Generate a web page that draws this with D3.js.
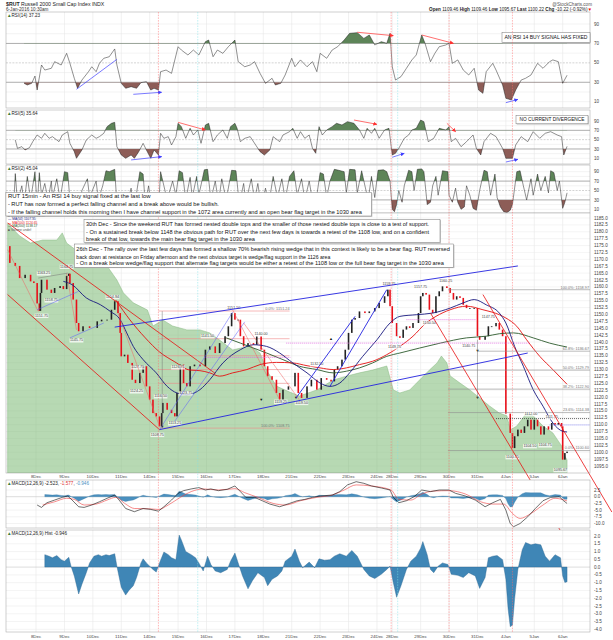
<!DOCTYPE html>
<html><head><meta charset="utf-8">
<script src="https://cdn.jsdelivr.net/npm/d3@7"></script>
<style>body{margin:0;background:#fff}svg{display:block}text{font-family:"Liberation Sans",Arial,sans-serif}</style>
</head><body><svg id="c" width="613" height="640"></svg>
<script>
// ---------------- DATA (bar index = 15-min bar counted from 7 Dec 9:30) ----------------
const dayLabels=["8Dec","9Dec","10Dec","11Dec","14Dec","15Dec","16Dec","17Dec","18Dec","21Dec","22Dec","23Dec","24Dec","28Dec","29Dec","30Dec","31Dec","4Jan","5Jan","6Jan"];
const dayStarts=[26,52,78,104,130,156,182,208,234,260,286,312,338,352,378,404,430,456,482,508];
const priceTicks=d3.range(1095,1185.01,2.5);
const rsiTicks=[10,30,50,70,90];
const macdTicks=[2.5,0,-2.5,-5,-7.5,-10];
const histTicks=[2,1.5,1,0.5,0,-0.5,-1,-1.5,-2,-2.5,-3,-3.5,-4];

const price=[[0,1174.8],[2,1168.7],[7,1167.6],[11,1163.2],[16,1164.4],[21,1162],[24,1161.4],[27,1154],[29,1151.3],[30,1157.8],[31,1162.6],[36,1159],[40,1157.8],[43,1159.6],[48,1160.3],[51,1159.2],[54,1164],[56,1164.8],[57,1161.4],[60,1155.4],[63,1146.9],[65,1143.9],[69,1145.7],[75,1145.1],[82,1147.5],[86,1148.1],[91,1148.1],[95,1151.7],[98,1154.8],[101,1150.5],[103,1143.3],[104,1134.8],[107,1135.4],[110,1132.4],[114,1126.3],[117,1125.1],[121,1128.8],[124,1131.2],[127,1123.9],[130,1119.1],[133,1114.2],[136,1113],[139,1109.4],[141,1114.2],[142,1117.9],[146,1115.4],[150,1114.2],[153,1113],[155,1121.5],[158,1131.8],[161,1125.1],[164,1123.9],[167,1131.2],[171,1131.8],[176,1131.2],[181,1137.2],[185,1138.4],[190,1136],[194,1139.6],[199,1142.1],[202,1145.7],[205,1150.5],[208,1148.1],[211,1148.1],[213,1142.1],[216,1138.4],[220,1139.6],[225,1139],[228,1142.1],[232,1137.2],[235,1131.2],[238,1127.6],[242,1126.3],[246,1121.5],[249,1119.1],[252,1122.7],[257,1123.9],[263,1128.8],[266,1121.5],[269,1119.7],[274,1123.9],[278,1126.3],[283,1122.7],[287,1126.9],[292,1126.3],[296,1125.7],[299,1130],[302,1131.2],[306,1133.6],[309,1137.2],[312,1143.3],[315,1148.1],[318,1148.7],[322,1151.1],[327,1150.5],[331,1151.1],[336,1152.3],[340,1154.2],[345,1156.6],[348,1159],[350,1153],[352,1146.9],[356,1142.1],[359,1141.5],[362,1144.5],[365,1145.7],[368,1145.1],[371,1146.9],[376,1150.5],[378,1156.6],[380,1157.8],[383,1157.2],[386,1151.7],[389,1150.5],[392,1156.6],[395,1158.4],[398,1160.2],[402,1159.6],[405,1157.8],[408,1155.4],[411,1156.6],[414,1156],[417,1153.5],[420,1152.3],[423,1152.3],[427,1152.3],[430,1142.1],[432,1140.8],[437,1142.1],[440,1145.7],[443,1145.7],[447,1146.9],[450,1144.5],[453,1142.1],[456,1114],[460,1107],[462,1101.5],[464,1105.8],[467,1108.2],[470,1107],[473,1109.4],[476,1111.8],[479,1108.2],[482,1111.8],[485,1109.4],[488,1106.4],[491,1109.4],[495,1108.2],[498,1110.6],[501,1110],[504,1110.6],[507,1109.4],[508,1097.3],[510,1099.7],[512,1100.22]];

const compare=[[0,1183],[2,1182.1],[11,1178.5],[21,1175.9],[32,1177],[45,1177],[50,1179.6],[54,1175.9],[66,1172.3],[82,1168.7],[91,1167.6],[100,1162.5],[106,1157.8],[115,1154.2],[128,1151.6],[133,1145.8],[142,1148],[151,1145.8],[164,1144.4],[176,1144.4],[185,1143.3],[194,1140.7],[206,1137.1],[222,1138.6],[231,1136],[237,1129.8],[246,1124],[256,1122.2],[267,1120.4],[283,1122.6],[298,1126.2],[311,1127.7],[322,1128.8],[334,1129.8],[347,1131.3],[353,1122.6],[359,1121.5],[368,1122.6],[377,1126.2],[386,1129.8],[393,1132.4],[397,1134.9],[402,1132.4],[405,1127.7],[414,1125.1],[423,1122.6],[432,1119.7],[441,1116.8],[450,1114.2],[457,1113.2],[460,1108.1],[466,1109.5],[475,1114.2],[481,1113.2],[490,1109.5],[499,1107],[507,1102.3],[510,1098.6],[512,1097.2]];

const ma50=[[51,1162],[59,1160.8],[72,1156],[85,1153.5],[94,1151.1],[103,1148.1],[109,1143.3],[115,1138.4],[124,1133.6],[136,1128.8],[146,1123.9],[155,1121.5],[164,1120.9],[176,1122.7],[185,1126.3],[197,1132.4],[213,1137.2],[225,1139],[237,1138.4],[249,1136],[261,1132.4],[274,1128.8],[286,1125.1],[295,1123.9],[304,1125.1],[313,1128.8],[325,1134.8],[338,1140.8],[350,1146.9],[359,1149.3],[374,1149.9],[389,1150.5],[405,1152.3],[417,1154.2],[427,1155.4],[438,1153.5],[450,1150.5],[456,1146.9],[464,1138.4],[472,1131.2],[481,1122.7],[490,1116.7],[499,1110.6],[508,1107.6],[512,1107.35]];
const ma100=[[99,1155.2],[112,1148],[126,1141.5],[139,1136.4],[153,1132.8],[167,1129.8],[176,1129.6],[185,1128.8],[194,1127.6],[206,1128.8],[219,1130],[231,1131.8],[246,1132.6],[261,1132.4],[274,1131.4],[286,1130.6],[298,1130],[310,1130.6],[322,1131.8],[334,1133],[347,1135.4],[359,1138.4],[371,1142.1],[383,1146.9],[392,1149.3],[405,1151.7],[420,1153],[435,1151.7],[450,1149.9],[456,1148.7],[466,1145.7],[475,1140.8],[487,1134.8],[499,1130],[512,1124.65]];
const ma200=[[200,1141.5],[213,1139.6],[225,1137.8],[237,1136],[252,1133.6],[267,1131.2],[283,1130],[298,1128.8],[310,1129.4],[322,1130.6],[334,1132.4],[347,1134.8],[359,1136],[377,1137.8],[396,1139.6],[420,1141.5],[438,1142.1],[450,1143],[463,1143.3],[481,1141.5],[496,1139.6],[512,1138.17]];

const rsi14=[[15,28.9],[18,27.2],[22,28.9],[25,36.4],[27,22],[31,47.8],[34,42.6],[40,44.4],[43,51.2],[49,47.8],[54,59.8],[57,49.5],[61,34.1],[64,23.8],[68,32.3],[74,40.9],[77,46],[81,40.9],[84,49.5],[88,54.7],[93,56.3],[98,64.3],[100,47.8],[104,28.9],[108,23.8],[113,25.5],[118,23.8],[122,29.6],[127,30.7],[131,22],[134,23.8],[138,22],[140,40.9],[145,42.6],[150,39.2],[156,66.6],[159,63.2],[165,58.1],[170,63.2],[175,58.1],[181,71.8],[184,73.5],[188,56.3],[192,63.2],[197,59.8],[202,66.6],[208,73.5],[211,51.2],[217,46],[222,47.8],[226,51.2],[231,39.2],[236,28.9],[242,34.1],[245,27.2],[250,28.9],[254,37.5],[260,54.7],[263,46],[268,53],[274,46],[279,51.2],[283,40.9],[286,59.8],[292,54.7],[297,63.2],[302,66.6],[308,73.5],[313,80.4],[320,81.1],[326,75.2],[331,78.7],[336,68.4],[342,71.8],[347,70.1],[350,80.4],[352,46],[355,32.3],[360,35.8],[365,44.4],[370,53],[374,58.1],[379,78.7],[382,70.1],[387,51.2],[391,59.8],[395,66.6],[401,68.4],[404,70.1],[407,49.5],[412,53],[417,42.6],[422,37.5],[427,44.4],[431,22],[435,18.6],[438,40.9],[444,49.5],[447,42.6],[453,27.2],[456,13.5],[461,11.8],[465,22],[470,32.3],[474,34.1],[479,37.5],[485,49.5],[490,44.4],[496,51.2],[499,53],[504,51.2],[508,28.9],[512,37.23]];
const rsi5=[[7,49.3],[9,31.4],[13,35],[16,27.9],[20,32.9],[23,45.7],[27,60],[31,52.9],[34,63.6],[38,52.9],[41,56.4],[47,45.7],[50,60],[55,67.1],[57,42.1],[61,24.3],[63,10],[68,27.9],[72,49.3],[77,60],[81,52.9],[84,56.4],[88,63.6],[91,77.9],[95,85],[98,87.1],[100,35],[104,17.1],[108,10],[113,17.1],[116,10],[120,24.3],[124,42.1],[127,27.9],[131,10],[134,27.9],[138,17.1],[140,63.6],[143,52.9],[147,56.4],[150,38.6],[154,56.4],[156,85],[159,77.9],[163,52.9],[167,74.3],[170,60],[174,70.7],[177,42.1],[181,81.4],[184,85],[188,45.7],[192,60],[197,70.7],[201,52.9],[204,77.9],[208,85],[210,74.3],[213,45.7],[217,52.9],[222,56.4],[227,38.6],[231,24.3],[235,17.1],[240,27.9],[243,56.4],[249,45.7],[252,60],[258,67.1],[261,74.3],[265,52.9],[268,67.1],[272,52.9],[276,60],[279,31.4],[282,20.7],[285,77.9],[288,60],[292,70.7],[297,77.9],[301,85],[306,81.4],[311,88.6],[317,85],[322,70.7],[326,52.9],[329,74.3],[333,63.6],[336,74.3],[340,52.9],[345,70.7],[349,74.3],[352,17.1],[355,20.7],[358,31.4],[363,52.9],[367,60],[370,70.7],[374,74.3],[378,92],[381,88.6],[385,45.7],[390,52.9],[395,74.3],[401,70.7],[404,77.9],[406,45.7],[410,52.9],[415,35],[420,45.7],[426,60],[429,31.4],[433,17.1],[436,45.7],[442,63.6],[447,56.4],[453,31.4],[456,10],[462,10],[465,38.6],[470,56.4],[476,45.7],[481,67.1],[487,52.9],[492,63.6],[497,67.1],[503,60],[507,56.4],[509,17.1],[512,35.64]];
const rsi2=[[6,40],[7,86],[9,25],[13,60],[15,20],[18,80],[21,30],[25,90],[27,15],[29,88],[31,40],[34,65],[37,30],[40,70],[41,35],[45,75],[48,30],[52,90],[55,88],[57,30],[61,15],[65,8],[68,50],[73,75],[75,35],[81,70],[83,30],[87,60],[90,92],[93,90],[98,95],[100,20],[104,8],[107,45],[109,15],[113,55],[115,10],[118,45],[121,90],[124,85],[126,20],[129,60],[132,10],[135,40],[138,8],[140,90],[143,60],[146,30],[151,70],[154,40],[157,92],[160,88],[163,30],[167,78],[169,35],[173,80],[175,40],[180,94],[183,95],[186,30],[190,70],[193,25],[196,75],[200,30],[205,93],[209,92],[212,20],[216,65],[218,25],[223,75],[226,30],[229,65],[232,15],[236,55],[239,20],[243,80],[247,35],[251,75],[254,30],[258,80],[262,92],[265,40],[269,75],[272,30],[276,70],[280,15],[283,40],[286,88],[289,85],[292,35],[295,70],[299,95],[303,93],[308,90],[310,45],[313,95],[318,94],[320,45],[324,92],[327,60],[330,30],[333,80],[336,35],[339,93],[344,94],[347,90],[350,70],[352,10],[354,5],[356,20],[358,50],[361,25],[363,60],[367,93],[370,90],[372,50],[375,95],[379,96],[381,90],[384,20],[387,25],[389,60],[392,80],[394,40],[398,92],[403,90],[404,40],[407,25],[410,55],[412,25],[415,10],[418,15],[420,60],[423,40],[426,12],[429,8],[432,50],[436,93],[439,90],[442,40],[446,85],[448,35],[451,15],[454,5],[457,3],[460,8],[462,20],[466,90],[469,92],[472,60],[475,30],[479,75],[481,40],[485,85],[488,50],[492,80],[495,45],[497,92],[500,88],[503,50],[505,70],[508,12],[510,25],[512,45.04]];

const macdLine=[[27,-3.1],[31,-4],[36,-2.25],[43,-1.25],[50,-0.25],[55,0.25],[59,-1.25],[65,-3.75],[70,-4],[77,-3.1],[84,-1.9],[91,-0.6],[98,0.6],[102,-1.25],[108,-4.4],[116,-5.6],[124,-4.4],[131,-4.75],[138,-5.4],[143,-3.75],[150,-1.25],[156,1.25],[161,2.25],[168,2.9],[175,3.4],[181,2.5],[186,2.9],[193,2.25],[201,2.75],[208,4],[213,1.9],[218,-0.25],[226,-0.25],[233,-1.5],[240,-2.75],[249,-3.75],[258,-2.5],[265,-1.5],[272,-1],[279,-0.25],[286,0.25],[297,0.6],[304,1.9],[311,4.4],[319,5.6],[326,5],[333,4],[342,3.25],[350,2.5],[353,-0.25],[358,-2.25],[365,-1.5],[372,0],[379,2.5],[387,1.9],[395,2.5],[404,2.5],[410,1.25],[419,0.25],[428,-1.25],[437,-3.75],[444,-2.25],[451,-1],[456,-5],[460,-10],[463,-11.2],[469,-10],[476,-7.5],[483,-4.4],[490,-1.5],[497,-0.25],[505,0],[508,-1.25],[512,-2.523]];
const macdSignal=[[32,-3.1],[43,-1.9],[54,-0.6],[61,-1],[70,-3.1],[81,-2.75],[91,-1.25],[99,-0.25],[108,-2.75],[116,-4.4],[129,-4.5],[138,-4.75],[147,-3.1],[158,-0.25],[168,1.9],[179,2.9],[193,2.5],[208,3],[217,1.5],[229,-0.25],[243,-2.5],[254,-3.1],[268,-1.5],[283,-0.25],[297,0.6],[308,2.5],[319,4.4],[333,4],[351,2.5],[358,-1],[369,-1.25],[379,1],[390,2.1],[404,2.25],[419,1],[433,-1.9],[444,-2.75],[454,-2.75],[462,-6.25],[469,-8.1],[479,-6.25],[490,-3.1],[501,-0.6],[512,-1.577]];
const macdHist=[[34,0.8],[38,0.7],[41,0.6],[45,0.74],[49,0.48],[52,0.38],[56,0.63],[58,0.06],[61,-0.57],[65,-1.73],[68,-1.1],[72,-0.36],[75,0.27],[79,0.7],[83,0.8],[86,0.7],[90,0.8],[93,0.74],[98,0.86],[100,0.06],[104,-1.3],[108,-1.8],[111,-1.5],[115,-1.2],[118,-0.67],[122,0.27],[124,0.53],[127,0.27],[133,-0.15],[136,-0.32],[139,0.27],[143,0.97],[147,0.8],[150,0.6],[154,0.48],[157,2.06],[159,1.75],[163,1],[168,0.8],[172,0.6],[175,0.27],[179,-0.25],[183,0.7],[186,0.17],[190,-0.25],[195,-0.36],[201,-0.15],[204,0.38],[208,0.9],[211,0.27],[215,-0.57],[220,-1.4],[224,-0.88],[229,-0.36],[235,-0.67],[238,-1.2],[242,-0.78],[247,-0.57],[251,-0.25],[254,0.38],[260,0.7],[263,1.16],[267,0.38],[270,-0.04],[276,0.32],[281,-0.04],[285,0.53],[290,0.44],[295,0.48],[299,0.7],[304,0.86],[310,0.7],[315,1.07],[320,0.7],[326,-0.15],[331,-0.57],[336,-0.74],[342,-0.46],[347,-0.15],[350,0.06],[353,-1],[356,-1.94],[360,-1.2],[365,-0.15],[369,0.38],[374,0.7],[378,1.22],[380,1.64],[384,0.8],[387,-0.15],[390,-0.36],[394,0.06],[398,0.27],[403,0.17],[406,-0.46],[412,-0.53],[417,-0.67],[422,-0.36],[428,-0.57],[432,-1.37],[437,-0.67],[440,0.6],[444,0.7],[448,0.74],[453,0.48],[456,-0.78],[458,-2.67],[460,-3.83],[462,-3.73],[464,-2.04],[467,-0.15],[471,1.12],[474,1.58],[479,1.43],[483,1.5],[488,1.43],[492,0.7],[496,0.38],[501,0.8],[506,0.6],[508,-0.57],[510,-0.99],[512,-0.946]];

// drawn annotations (bar, value)
const blueThick=[[[98,1145.4],[467,1167.6]],[[139,1108.2],[476,1136]],[[264,1119.7],[318,1149.3]],[[295,1123.9],[347,1159]]];
const blueThin=[[[27,1151.7],[65,1158.4]],[[57,1141.5],[88,1146.9]],[[139,1108.1],[206,1150.9]],[[153,1111.3],[217,1147.3]]];
const redThick=[[[0,1183.2],[190,1128.6]],[[0,1157.2],[139,1108.2]],[[387,1150.5],[523,1060.2]],[[435,1157.2],[553,1078.3]]];
const redThin=[[[0,1173.5],[28,1151.1]],[[54,1165],[63,1144.4]],[[101,1150.5],[139,1109.4]],[[206,1151.6],[249,1119]],[[216,1146.9],[267,1119]]];
const grayThin=[[[28,1163.2],[55,1165]],[[141.5,1151.2],[141.5,1109.2]],[[430,1140.8],[430,1119.7]]];
const fibLeftLevels=[1151.24,1141.2,1135.0,1130.0,1125.0,1108.75];
const fibLeftRange=[138,258];
const fibRight=[["100.0%: 1158.97",1158.97,403],["61.8%: 1136.67",1136.67,430],["50.0%: 1129.79",1129.79,403],["38.2%: 1122.90",1122.9,403],["23.6%: 1114.38",1114.38,403],["0.0%: 1100.60",1100.6,403]];
const dotted=[[1112.2,447,"#222"],[1109.9,496,"#6a6aff"]];
const magenta=[[1139.6,255,478],[1148.1,365,429],[1134.4,180,259]];
const priceTags=[[33,1165,"1163.25"],[54,1167.4,"1164.75"],[40,1155.2,"1158.75"],[31,1149.6,"1151.75"],[63,1140.7,"1145.75"],[96,1156.4,"1154.94"],[119,1130.9,"1127.75"],[118,1122.2,"1124.25"],[140,1120.4,"1116.50"],[137,1106.4,"1108.75"],[153,1110.6,"1113.25"],[156,1130.9,"1126.75"],[163,1121.5,"1123.75"],[183,1142.2,"1141.50"],[207,1152.6,"1151.50"],[232,1142.9,"1140.00"],[250,1118.4,"1119.25"],[269,1118,"1119.50"],[283,1132,"1132.50"],[349,1161.3,"1159.75"],[354,1138.2,"1149.75"],[378,1160.2,"1157.75"],[401,1162.3,"1160.25"],[386,1146.9,"1150.50"],[440,1149.1,"1147.75"],[422,1138.6,"1140.75"],[479,1113.9,"1112.00"],[498,1112.8,"1111.75"],[478,1102.3,"1104.50"],[492,1102.6,"1104.75"],[462,1098.3,"1100.75"],[506,1093.6,"1095.67"]];
const markersDown=[[232,1119.1],[264,1119.7],[141.5,1109.2],[430,1137],[430,1119.7]];
const markersUp=[[296,1141.1]];
const rsi14Arrows=[[[63,22.8],[100,53.6],"#4040ff",false],[[115,17.6],[141,19.7],"#4040ff",true],[[320,81.5],[353,78],"#ff3030",true],[[379,78.7],[408,70.1],"#ff3030",true],[[456,9],[467,12.4],"#4040ff",true]];
const rsi5Arrows=[[[113,6.5],[141,13.6],"#4040ff",true],[[156,87.1],[181,70.7],"#ff3030",true],[[317,92.1],[338,82.9],"#ff3030",true],[[352,12.2],[363,20.7],"#4040ff",true],[[402,85],[410,67.1],"#ff3030",true],[[456,2],[467,7.9],"#4040ff",true]];
const redMarks=[138,351,404,462];
const cyanMarks=[174,357];

const note1=["RUT 15min - An RSI 14 buy signal fixed at the last low","- RUT has now formed a perfect falling channel and a break above would be bullish.","- If the falling channel holds this morning then I have channel support in the 1072 area currently and an open bear flag target in the 1030 area"];
const note2=["30th Dec - Since the weekend RUT has formed nested double tops and the smaller of those nested double tops is close to a test of support.","- On a sustained break below 1148 the obvious path for RUT over the next few days is towards a retest of the 1108 low, and on a confident","break of that low, towards the main bear flag target in the 1030 area"];
const note3=["26th Dec - The rally over the last few days has formed a shallow 70% bearish rising wedge that in this context is likely to be a bear flag. RUT reversed","back down at resistance on Friday afternoon and the next obvious target is wedge/flag support in the 1126 area","- On a break below wedge/flag support that alternate flag targets would be either a retest of the 1108 low or the full bear flag target in the 1030 area"];

// ---------------- DRAWING ----------------
const svg=d3.select("#c");
const defs=svg.append("defs");
const L=6,R=590;
const x=d3.scaleLinear().domain([-1.5,533]).range([L,R]);
const P={r14:{t:12,b:108},r5:{t:110,b:164},r2:{t:165,b:213},main:{t:213,b:473},macd:{t:480,b:528},hist:{t:530,b:632}};
const yR14=d3.scaleLinear().domain([10,90]).range([101.7,24]);
const yR5=d3.scaleLinear().domain([10,90]).range([158.3,121]);
const yR2=d3.scaleLinear().domain([10,90]).range([209.3,171.7]);
const yP=d3.scaleLinear().domain([1185,1095]).range([218,466]);
const yM=d3.scaleLinear().domain([0,-10]).range([496.7,523.5]);
const yH=d3.scaleLinear().domain([2,-4]).range([536,629.3]);

["arrR","#ff3030","arrB","#4040ff"].forEach((v,i,a)=>{ if(i%2) return;
  defs.append("marker").attr("id",v).attr("viewBox","0 0 10 10").attr("refX",9).attr("refY",5)
   .attr("markerUnits","userSpaceOnUse").attr("markerWidth",4).attr("markerHeight",4).attr("orient","auto")
   .append("path").attr("d","M0,0L10,5L0,10z").attr("fill",a[i+1]);});

function clip(id,x0,y0,w,h){defs.append("clipPath").attr("id",id).append("rect").attr("x",x0).attr("y",y0).attr("width",w).attr("height",h);}
function panelBase(p){
  const g=svg.append("g");
  g.append("rect").attr("x",L).attr("y",p.t).attr("width",R-L).attr("height",p.b-p.t).attr("fill","#fff");
  g.selectAll(".vg").data(dayStarts).join("line").attr("x1",d=>x(d)).attr("x2",d=>x(d)).attr("y1",p.t).attr("y2",p.b).attr("stroke","#e3e3e3").attr("stroke-width",0.5);
  return g;
}
function border(p){svg.append("rect").attr("x",L).attr("y",p.t).attr("width",R-L).attr("height",p.b-p.t).attr("fill","none").attr("stroke","#a0a0a0").attr("stroke-width",0.5);}
function axisLabels(ticks,y,fmt){svg.append("g").selectAll("text").data(ticks).join("text").attr("x",594).attr("y",d=>y(d)+1.6).attr("font-size",4.6).attr("fill","#444").text(fmt);}
function lbl(px,py,parts){const t=svg.append("text").attr("x",px).attr("y",py).attr("font-size",4.6).attr("fill","#222");
  t.append("tspan").attr("fill","#3a7d3a").text("▲");
  parts.forEach(pp=>t.append("tspan").attr("fill",pp[1]).text(pp[0]));}

// header
const h1=svg.append("text").attr("x",6).attr("y",6).attr("font-size",5.2).attr("fill","#222");
h1.append("tspan").attr("font-weight","bold").text("$RUT");h1.append("tspan").text(" Russell 2000 Small Cap Index  INDX");
svg.append("text").attr("x",6).attr("y",11.3).attr("font-size",4.6).attr("fill","#333").text("6-Jan-2016 10:30am");
svg.append("text").attr("x",592).attr("y",6).attr("font-size",4.6).attr("fill","#555").attr("text-anchor","end").text("@StockCharts.com");
const h2=svg.append("text").attr("x",592).attr("y",11.3).attr("font-size",4.6).attr("fill","#222").attr("text-anchor","end");
[["Open","1109.46"],["High","1109.46"],["Low","1095.67"],["Last","1100.22"],["Chg","-10.22 (-0.92%)"]].forEach(d=>{h2.append("tspan").attr("font-weight","bold").text(" "+d[0]+" ");h2.append("tspan").text(d[1]);});
h2.append("tspan").attr("fill","#e00").text("▼");

// RSI panels
function rsiPanel(key,data,y,name,val,arrows){
  const p=P[key];const g=panelBase(p);
  d3.range(10,91,10).forEach(v=>{
    const strong=(v===30||v===70), mid=v===50;
    g.append("line").attr("x1",L).attr("x2",R).attr("y1",y(v)).attr("y2",y(v))
     .attr("stroke",strong?"#8a8a8a":mid?"#a8a8a8":"#e6e6e6").attr("stroke-width",strong?0.7:0.5)
     .attr("stroke-dasharray",mid?"2,1.2":null);});
  clip(key+"hi",L,p.t,R-L,y(70)-p.t);clip(key+"lo",L,y(30),R-L,p.b-y(30));
  g.append("path").datum(data).attr("clip-path",`url(#${key}hi)`).attr("fill","#5d8458")
   .attr("d",d3.area().x(d=>x(d[0])).y0(y(70)).y1(d=>y(d[1])));
  g.append("path").datum(data).attr("clip-path",`url(#${key}lo)`).attr("fill","#8d5d57")
   .attr("d",d3.area().x(d=>x(d[0])).y0(y(30)).y1(d=>y(d[1])));
  clip(key+"all",L,p.t,R-L,p.b-p.t);
  g.append("path").datum(data).attr("clip-path",`url(#${key}all)`).attr("fill","none").attr("stroke","#222").attr("stroke-width",0.5)
   .attr("d",d3.line().x(d=>x(d[0])).y(d=>y(d[1])));
  arrows.forEach(a=>g.append("line").attr("x1",x(a[0][0])).attr("y1",y(a[0][1])).attr("x2",x(a[1][0])).attr("y2",y(a[1][1]))
    .attr("stroke",a[2]).attr("stroke-width",0.7).attr("marker-end",a[3]?(a[2]==="#ff3030"?"url(#arrR)":"url(#arrB)"):null));
  border(p);axisLabels(rsiTicks,y,d=>d);
  lbl(7,p.t+5,[[name+" "+val,"#222"]]);
}
rsiPanel("r14",rsi14,yR14,"RSI(14)","37.23",rsi14Arrows);
rsiPanel("r5",rsi5,yR5,"RSI(5)","35.64",rsi5Arrows);
rsiPanel("r2",rsi2,yR2,"RSI(2)","45.04",[]);

// callout boxes in RSI panels
function callout(x0,y0,x1,y1,txt,tw){
  svg.append("rect").attr("x",x0+0.8).attr("y",y0+0.8).attr("width",x1-x0).attr("height",y1-y0).attr("fill","#c8c8c8");
  svg.append("rect").attr("x",x0).attr("y",y0).attr("width",x1-x0).attr("height",y1-y0).attr("fill","#fff").attr("stroke","#777").attr("stroke-width",0.5);
  svg.append("text").attr("x",(x0+x1)/2).attr("y",(y0+y1)/2+1.9).attr("text-anchor","middle").attr("font-size",5.2).attr("fill","#111")
    .attr("textLength",tw).attr("lengthAdjust","spacingAndGlyphs").text(txt);
}
callout(502,32.5,590,42.5,"AN RSI 14 BUY SIGNAL HAS FIXED",83);
callout(516,115.3,588,123.8,"NO CURRENT DIVERGENCE",65);

// main panel
const pm=P.main;const gm=panelBase(pm);
priceTicks.forEach(v=>gm.append("line").attr("x1",L).attr("x2",R).attr("y1",yP(v)).attr("y2",yP(v)).attr("stroke","#ebebeb").attr("stroke-width",0.5));
clip("mainclip",L,pm.t,R-L,pm.b-pm.t);
const gc=gm.append("g").attr("clip-path","url(#mainclip)");
gc.append("path").datum(compare).attr("fill","rgba(112,180,104,0.5)").attr("stroke","#86b981").attr("stroke-width",0.5)
  .attr("d",d3.area().x(d=>x(d[0])).y0(pm.b).y1(d=>yP(d[1])));
// fib lines
fibLeftLevels.forEach(v=>gc.append("line").attr("x1",x(fibLeftRange[0])).attr("x2",x(fibLeftRange[1])).attr("y1",yP(v)).attr("y2",yP(v)).attr("stroke","#f08a8a").attr("stroke-width",0.6));
gc.append("text").attr("x",x(fibLeftRange[1])).attr("y",yP(fibLeftLevels[0])-1).attr("text-anchor","end").attr("font-size",3.8).attr("fill","#777").text("0.0%: 1151.24");
gc.append("text").attr("x",x(fibLeftRange[1])).attr("y",yP(fibLeftLevels[5])-1).attr("text-anchor","end").attr("font-size",3.8).attr("fill","#777").text("100.0%: 1108.75");
fibRight.forEach(f=>{gm.append("line").attr("x1",x(f[2])).attr("x2",R).attr("y1",yP(f[1])).attr("y2",yP(f[1])).attr("stroke","#8c8c8c").attr("stroke-width",0.6);
  gm.append("text").attr("x",R-1).attr("y",yP(f[1])-1.2).attr("text-anchor","end").attr("font-size",3.8).attr("fill","#777").text(f[0]);});
dotted.forEach(d=>gm.append("line").attr("x1",x(d[1])).attr("x2",R).attr("y1",yP(d[0])).attr("y2",yP(d[0])).attr("stroke",d[2]).attr("stroke-width",0.7).attr("stroke-dasharray","1,1"));
magenta.forEach(d=>gm.append("line").attr("x1",x(d[1])).attr("x2",x(d[2])).attr("y1",yP(d[0])).attr("y2",yP(d[0])).attr("stroke","#e060e0").attr("stroke-width",0.8).attr("stroke-dasharray","1,1"));
// candles
price.forEach((d,k)=>{ if(!k) return; const o=price[k-1][1],c=d[1];
  const y1=yP(Math.max(o,c)),y2=yP(Math.min(o,c));
  gc.append("rect").attr("x",x(d[0])-0.8).attr("y",y1).attr("width",1.6).attr("height",Math.max(0.8,y2-y1)).attr("fill",c>=o?"#222":"#e8101a");});
// moving averages
[[ma200,"#2c5a2c"],[ma100,"#e41010"],[ma50,"#16167e"]].forEach(m=>gc.append("path").datum(m[0]).attr("fill","none").attr("stroke",m[1]).attr("stroke-width",0.9)
  .attr("d",d3.line().curve(d3.curveMonotoneX).x(d=>x(d[0])).y(d=>yP(d[1]))));
// trendlines
function tl(arr,col,w){arr.forEach(s=>svg.append("line").attr("x1",x(s[0][0])).attr("y1",yP(s[0][1])).attr("x2",x(s[1][0])).attr("y2",yP(s[1][1])).attr("stroke",col).attr("stroke-width",w));}
tl(redThin,"#f06060",0.5);tl(blueThin,"#5a5aff",0.5);tl(grayThin,"#777",0.5);
tl(blueThick,"#2323e0",0.9);tl(redThick,"#e81010",0.8);
// arrows markers
markersDown.forEach(d=>gm.append("text").attr("x",x(d[0])).attr("y",yP(d[1])+1.5).attr("text-anchor","middle").attr("font-size",4).attr("fill","#111").text("▼"));
markersUp.forEach(d=>gm.append("text").attr("x",x(d[0])).attr("y",yP(d[1])+1.5).attr("text-anchor","middle").attr("font-size",4).attr("fill","#111").text("▲"));
// price tags
priceTags.forEach(t=>{const g=gm.append("g");
  const tx=g.append("text").attr("x",x(t[0])).attr("y",yP(t[1])+1.3).attr("text-anchor","middle").attr("font-size",3.7).attr("fill","#444").text(t[2]);
  const b=tx.node().getBBox();
  g.insert("rect","text").attr("x",b.x-0.4).attr("y",b.y-0.2).attr("width",b.width+0.8).attr("height",b.height+0.4).attr("fill","rgba(255,255,255,0.75)");});
border(pm);axisLabels(priceTicks,yP,d=>d.toFixed(1));
// legend
const legRows=[["$RUT (15 min) 1100.22","#222","■"],["MA(50) 1107.35","#16167e","—"],["MA(100) 1124.65","#e41010","—"],["MA(200) 1138.17","#2c5a2c","—"],["Volume undef","#555","■"]];
legRows.forEach((r,i)=>{const t=svg.append("text").attr("x",8).attr("y",pm.t+4+i*3.4).attr("font-size",3.3).attr("fill",r[1]);
  t.append("tspan").text(r[2]+" ");t.append("tspan").text(r[0]);});

// x axis labels below main panel
svg.append("g").selectAll("text").data(dayLabels).join("text").attr("x",(d,i)=>x(dayStarts[i])).attr("y",477.8)
 .attr("text-anchor","middle").attr("font-size",4.4).attr("fill","#444").text(d=>d);

// MACD panel
const pM=P.macd;const gM=panelBase(pM);
macdTicks.forEach(v=>gM.append("line").attr("x1",L).attr("x2",R).attr("y1",yM(v)).attr("y2",yM(v)).attr("stroke",v===0?"#bbb":"#e6e6e6").attr("stroke-width",0.5));
gM.append("path").datum(macdHist).attr("fill","#4a90bf").attr("stroke","#2f6f9c").attr("stroke-width",0.3)
  .attr("d",d3.area().x(d=>x(d[0])).y0(yM(0)).y1(d=>yM(d[1])));
gM.append("path").datum(macdSignal).attr("fill","none").attr("stroke","#f04040").attr("stroke-width",0.6).attr("d",d3.line().curve(d3.curveMonotoneX).x(d=>x(d[0])).y(d=>yM(d[1])));
gM.append("path").datum(macdLine).attr("fill","none").attr("stroke","#111").attr("stroke-width",0.6).attr("d",d3.line().x(d=>x(d[0])).y(d=>yM(d[1])));
border(pM);axisLabels(macdTicks,yM,d=>d.toFixed(1));
lbl(7,pM.t+4.5,[["MACD(12,26,9) ","#222"],["-2.523","#222"],[", ","#222"],["-1.577","#e03030"],[", ","#222"],["-0.946","#4a90bf"]]);

// Histogram panel
const pH=P.hist;const gH=panelBase(pH);
histTicks.forEach(v=>gH.append("line").attr("x1",L).attr("x2",R).attr("y1",yH(v)).attr("y2",yH(v)).attr("stroke",v===0?"#bbb":"#e8e8e8").attr("stroke-width",0.5));
gH.append("path").datum(macdHist).attr("fill","#3f86b6").attr("stroke","#2a6690").attr("stroke-width",0.4)
  .attr("d",d3.area().x(d=>x(d[0])).y0(yH(0)).y1(d=>yH(d[1])));
border(pH);axisLabels(histTicks,yH,d=>d.toFixed(1));
lbl(7,pH.t+4.5,[["MACD(12,26,9) Hist -0.946","#222"]]);
svg.append("g").selectAll("text").data(dayLabels).join("text").attr("x",(d,i)=>x(dayStarts[i])).attr("y",638.3)
 .attr("text-anchor","middle").attr("font-size",4.4).attr("fill","#444").text(d=>d);

// vertical marker lines across all panels
redMarks.forEach(b=>svg.append("line").attr("x1",x(b)).attr("x2",x(b)).attr("y1",P.r14.t).attr("y2",P.hist.b).attr("stroke","#ff6a6a").attr("stroke-width",0.5).attr("stroke-dasharray","1.5,1.2"));
cyanMarks.forEach(b=>svg.append("line").attr("x1",x(b)).attr("x2",x(b)).attr("y1",P.r14.t).attr("y2",P.hist.b).attr("stroke","#7ee0e6").attr("stroke-width",0.5).attr("stroke-dasharray","1.5,1.2"));

// text notes
function note(x0,y0,x1,y1,lines,ys,widths){
  svg.append("rect").attr("x",x0+0.8).attr("y",y0+0.8).attr("width",x1-x0).attr("height",y1-y0).attr("fill","#bdbdbd");
  svg.append("rect").attr("x",x0).attr("y",y0).attr("width",x1-x0).attr("height",y1-y0).attr("fill","#fff").attr("stroke","#777").attr("stroke-width",0.5);
  lines.forEach((t,i)=>svg.append("text").attr("x",x0+2).attr("y",ys[i]).attr("font-size",5.4).attr("fill","#111")
    .attr("textLength",widths[i]).attr("lengthAdjust","spacingAndGlyphs").text(t));
}
note(5.9,192.3,371.5,216,note1,[197.6,206.2,213.6],[142.7,211,354]);
note(84,219.3,440,242.7,note2,[226,233.7,240.6],[343,343,169]);
note(74.3,244,453.6,267.3,note3,[251.2,258.6,265.2],[373.5,254,367.6]);
</script></body></html>
